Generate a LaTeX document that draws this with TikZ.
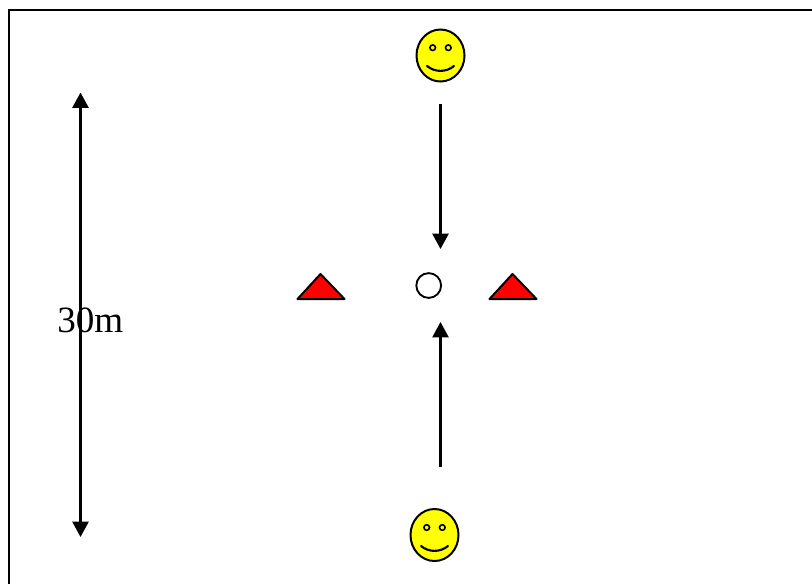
\documentclass[tikz,border=0pt]{standalone}
\usepackage{xcolor}
\usepackage{fontspec}
\setmainfont{Liberation Serif}
\usetikzlibrary{shapes.geometric, arrows.meta}
\definecolor{myyellow}{RGB}{255,255,0}
\definecolor{myred}{RGB}{255,0,0}
\tikzset{
  face/.style={ellipse, draw=black, fill=myyellow, minimum width=48pt*0.75, minimum height=52pt*0.75,
    inner sep=0pt, line width=1.5pt},
  eye/.style={circle, draw=black, fill=myyellow, minimum size=4.2pt, inner sep=0pt, line width=1.2pt},
  mouth/.style={line width=1.6pt, line cap=round},
  cone/.style={draw=black, fill=myred, line width=1.5pt, line join=round},
  arrow/.style={{Triangle[length=11.5pt,width=12pt]}-{Triangle[length=11.5pt,width=12pt]}, line width=1.8pt},
  onearrow/.style={-{Triangle[length=11.5pt,width=12pt]}, line width=1.8pt}
}
\begin{document}
\begin{tikzpicture}[x=0.75pt, y=-0.75pt]
  \useasboundingbox (0, 0) rectangle (812, 583);

  % Outer frame
  \draw[line width=1.5pt] (8.5, 590) -- (8.5, 9.5) -- (815, 9.5);

  % Top player
  \node[face] (topface) at (440.5, 55.5) {};
  \node[eye] (topeyeL) at (432.7, 47.7) {};
  \node[eye] (topeyeR) at (448.3, 47.7) {};
  \draw[mouth] (427, 66) .. controls (435, 72.5) and (446, 72.5) .. (454, 66);

  % Bottom player
  \node[face] (botface) at (434.5, 535) {};
  \node[eye] (boteyeL) at (426.7, 527.5) {};
  \node[eye] (boteyeR) at (442.3, 527.5) {};
  \draw[mouth] (421, 546) .. controls (429, 552.5) and (440, 552.5) .. (448, 546);

  % Centre mark
  \node[circle, draw=black, fill=white, minimum size=18.6pt, inner sep=0pt, line width=1.4pt] (centre) at (428.7, 285.5) {};

  % Cones
  \draw[cone] (297.5, 299) -- (320.5, 274) -- (344.5, 299) -- cycle;
  \draw[cone] (489.5, 299) -- (512.5, 274) -- (536.5, 299) -- cycle;

  % Arrows to the centre
  \coordinate (topstart) at (440.5, 104);
  \coordinate (topend) at (440.5, 249);
  \coordinate (botstart) at (440.5, 467);
  \coordinate (botend) at (440.5, 322);
  \draw[onearrow] (topstart) -- (topend);
  \draw[onearrow] (botstart) -- (botend);

  % 30m distance
  \coordinate (disttop) at (80.5, 92.5);
  \coordinate (distbot) at (80.5, 537);
  \draw[arrow] (disttop) -- (distbot);
  \node[anchor=base west, inner sep=0pt, font=\fontsize{27.8pt}{30pt}\selectfont] (distlabel) at (57, 332) {30m};
\end{tikzpicture}
\end{document}
